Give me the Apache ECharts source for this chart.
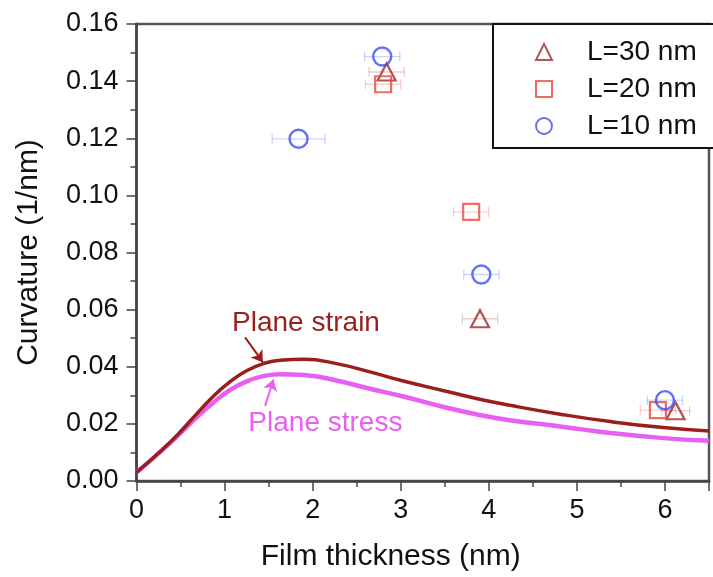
<!DOCTYPE html>
<html>
<head>
<meta charset="utf-8">
<script src="https://cdn.jsdelivr.net/npm/echarts@6/dist/echarts.min.js"></script>
<style>
html,body{margin:0;padding:0;background:#fff;}
#chart{width:713px;height:577px;}
</style>
</head>
<body>
<div id="chart"></div>
<script>
// model curves
var thickness = [0, 0.3, 0.49, 0.68, 0.87, 1.06, 1.25, 1.44, 1.63, 1.9, 2.27, 2.65, 3.03, 3.49, 3.87, 4.24, 4.81, 5.38, 5.95, 6.5];
var planeStrain = [0.003, 0.0112, 0.017, 0.0234, 0.0296, 0.0347, 0.0386, 0.0411, 0.0423, 0.0426, 0.0411, 0.0382, 0.035, 0.0316, 0.0288, 0.0265, 0.0234, 0.0208, 0.0188, 0.0175];
var planeStress = [0.003, 0.011, 0.0165, 0.0222, 0.0274, 0.0318, 0.0349, 0.0367, 0.0374, 0.0371, 0.0352, 0.0323, 0.0296, 0.0259, 0.0233, 0.0213, 0.0191, 0.0168, 0.0151, 0.0141];

// measured points (x, curvature, x error)
var x30 = [2.84, 3.90, 6.12];
var y30 = [0.1432, 0.0568, 0.0246];
var e30 = [0.2, 0.2, 0.16];
var x20 = [2.80, 3.80, 5.92];
var y20 = [0.1389, 0.0942, 0.0248];
var e20 = [0.2, 0.2, 0.2];
var x10 = [1.84, 2.79, 3.915, 6.0];
var y10 = [0.1198, 0.1486, 0.0723, 0.0283];
var e10 = [0.3, 0.2, 0.2, 0.2];

var names = ['L=30 nm', 'L=20 nm', 'L=10 nm'];

// annotations in data units
var strainLabel = [1.085, 0.0548];
var stressLabel = [1.27, 0.0200];
var strainArrow = [[1.233, 0.0503], [1.434, 0.0416]];
var stressArrow = [[1.46, 0.0263], [1.555, 0.0355]];

var FONT = "'Liberation Sans', Arial, sans-serif";
var chart = echarts.init(document.getElementById('chart'));

function zip(a, b) {
	var out = [];
	for (var i = 0; i < a.length; i++) out.push([a[i], b[i]]);
	return out;
}
function zip3(a, b, c) {
	var out = [];
	for (var i = 0; i < a.length; i++) out.push([a[i], b[i], c[i]]);
	return out;
}

function errBar(color) {
	return function (params, api) {
		var x = api.value(0), y = api.value(1), e = api.value(2);
		var p1 = api.coord([x - e, y]);
		var p2 = api.coord([x + e, y]);
		var st = {stroke: color, lineWidth: 1.3};
		return {
			type: 'group',
			children: [
				{type: 'line', shape: {x1: p1[0], y1: p1[1], x2: p2[0], y2: p2[1]}, style: st},
				{type: 'line', shape: {x1: p1[0], y1: p1[1] - 5, x2: p1[0], y2: p1[1] + 5}, style: st},
				{type: 'line', shape: {x1: p2[0], y1: p2[1] - 5, x2: p2[0], y2: p2[1] + 5}, style: st}
			]
		};
	};
}

var axisLine = {lineStyle: {color: '#444', width: 2.5}};

var option = {
	animation: false,
	backgroundColor: '#fff',
	grid: {left: 136.5, right: 4, top: 24, bottom: 95, show: true, borderColor: '#555', borderWidth: 2.5, backgroundColor: 'transparent'},
	legend: {
		data: names,
		orient: 'vertical',
		left: 493,
		top: 24,
		backgroundColor: '#fff',
		borderColor: '#111',
		borderWidth: 2,
		padding: [13, 20, 7, 42],
		itemWidth: 16,
		itemHeight: 16,
		itemGap: 7,
		textStyle: {fontFamily: FONT, fontSize: 28, color: '#111', lineHeight: 30, padding: [0, 0, 0, 30]}
	},
	xAxis: {
		type: 'value',
		min: 0,
		max: 6.5,
		interval: 1,
		name: 'Film thickness (nm)',
		nameLocation: 'middle',
		nameGap: 61,
		nameTextStyle: {fontFamily: FONT, fontSize: 30, color: '#111', padding: [0, 64, 0, 0]},
		axisLine: axisLine,
		axisTick: {length: 10, lineStyle: {color: '#444', width: 1.5}},
		minorTick: {show: true, splitNumber: 2, length: 6, lineStyle: {color: '#444', width: 1.5}},
		splitLine: {show: false},
		axisLabel: {fontFamily: FONT, fontSize: 27, color: '#111', margin: 16, showMaxLabel: false}
	},
	yAxis: {
		type: 'value',
		min: 0,
		max: 0.16,
		interval: 0.02,
		name: 'Curvature (1/nm)',
		nameLocation: 'middle',
		nameGap: 93,
		nameTextStyle: {fontFamily: FONT, fontSize: 30, color: '#111'},
		axisLine: axisLine,
		axisTick: {length: 10, lineStyle: {color: '#444', width: 1.5}},
		minorTick: {show: true, splitNumber: 2, length: 6, lineStyle: {color: '#444', width: 1.5}},
		splitLine: {show: false},
		axisLabel: {fontFamily: FONT, fontSize: 27, color: '#111', margin: 18,
			formatter: function (v) { return v.toFixed(2); }}
	},
	series: [
		{
			type: 'line', name: 'Plane stress', data: zip(thickness, planeStress), smooth: 0.5,
			showSymbol: false, lineStyle: {color: '#e860f2', width: 4.5}, z: 2,
			markLine: {silent: true, symbol: ['none', 'arrow'], symbolSize: 11, label: {show: false},
				lineStyle: {color: '#e860f2', width: 2, type: 'solid'},
				data: [[{coord: stressArrow[0]}, {coord: stressArrow[1]}]]}
		},
		{
			type: 'line', name: 'Plane strain', data: zip(thickness, planeStrain), smooth: 0.5,
			showSymbol: false, lineStyle: {color: '#9a1f1c', width: 3.5}, z: 3,
			markLine: {silent: true, symbol: ['none', 'arrow'], symbolSize: 11, label: {show: false},
				lineStyle: {color: '#9a1f1c', width: 2, type: 'solid'},
				data: [[{coord: strainArrow[0]}, {coord: strainArrow[1]}]]}
		},
		{type: 'custom', data: zip3(x30, y30, e30), renderItem: errBar('rgba(200,90,90,0.3)'), z: 4, silent: true},
		{type: 'custom', data: zip3(x20, y20, e20), renderItem: errBar('rgba(235,90,90,0.3)'), z: 4, silent: true},
		{type: 'custom', data: zip3(x10, y10, e10), renderItem: errBar('rgba(90,110,255,0.3)'), z: 4, silent: true},
		{
			type: 'scatter', name: names[0], data: zip(x30, y30), symbol: 'triangle', symbolSize: [18, 17], z: 5,
			itemStyle: {color: 'rgba(0,0,0,0)', borderColor: '#9e2b2b', borderWidth: 2.2}
		},
		{
			type: 'scatter', name: names[1], data: zip(x20, y20), symbol: 'rect', symbolSize: 16, z: 5,
			itemStyle: {color: 'rgba(0,0,0,0)', borderColor: '#e8473e', borderWidth: 2.2}
		},
		{
			type: 'scatter', name: names[2], data: zip(x10, y10), symbol: 'circle', symbolSize: 18, z: 6,
			itemStyle: {color: 'rgba(0,0,0,0)', borderColor: '#3c4ef2', borderWidth: 2.4}
		}
	]
};
chart.setOption(option);

var ps = chart.convertToPixel({gridIndex: 0}, strainLabel);
var pt = chart.convertToPixel({gridIndex: 0}, stressLabel);
chart.setOption({
	graphic: [
		{type: 'text', left: ps[0], top: ps[1] - 15, z: 10,
			style: {text: 'Plane strain', font: '28px ' + FONT, fill: '#9a1f1c'}},
		{type: 'text', left: pt[0], top: pt[1] - 15, z: 10,
			style: {text: 'Plane stress', font: '28px ' + FONT, fill: '#e860f2'}}
	]
});
</script>
</body>
</html>
